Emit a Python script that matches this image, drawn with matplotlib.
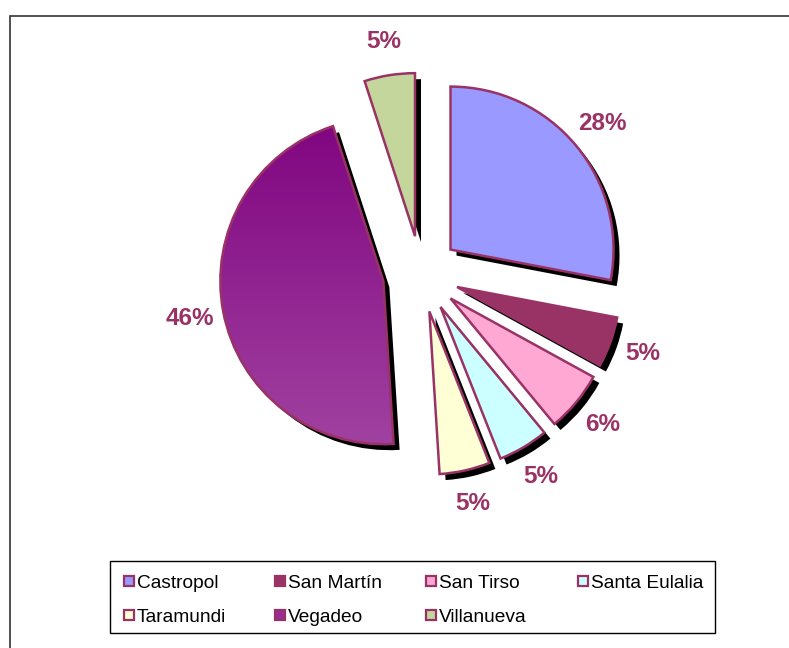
import matplotlib
matplotlib.use("Agg")
import matplotlib.pyplot as plt
import matplotlib.transforms as mtransforms
from matplotlib.patches import Rectangle
from matplotlib.colors import LinearSegmentedColormap
import numpy as np

plt.rcParams['font.family'] = ['Liberation Sans', 'DejaVu Sans']

categories = ["Castropol", "San Martín", "San Tirso", "Santa Eulalia",
              "Taramundi", "Vegadeo", "Villanueva"]
values = [28, 5, 6, 5, 5, 46, 5]
colors = ["#9999FF", "#993366", "#FFA8D4", "#CCFFFF", "#FFFFD6", "#8C2A8C", "#C4D69C"]
legend_colors = ["#9999FF", "#993366", "#FFA8D4", "#CCFFFF", "#FFFFD6", "#962E96", "#C4D69C"]
edge = "#993366"
label_color = "#993366"

W, H = 789, 648
fig = plt.figure(figsize=(W / 100, H / 100), dpi=100)
ax = fig.add_axes([0, 0, 1, 1])

R = 163.0
cx, cy = 421.0, 274.0
explode = [0.235] * len(values)

# shadows
sh, _ = ax.pie(values, explode=explode, startangle=90, counterclock=False,
               colors=["black"] * len(values), radius=1.0,
               wedgeprops=dict(linewidth=0))
off = mtransforms.ScaledTranslation(6 / 100, -6 / 100, fig.dpi_scale_trans)
for w in sh:
    w.set_transform(ax.transData + off)
    w.set_zorder(1)

wedges, texts, autotexts = ax.pie(
    values, explode=explode, startangle=90, counterclock=False,
    colors=colors, radius=1.0, autopct="%1.0f%%", pctdistance=1.21,
    wedgeprops=dict(linewidth=1.8, edgecolor=edge),
    textprops=dict(fontsize=17.5, fontweight="bold", color=label_color))
for w in wedges:
    w.set_zorder(3)

# gradient fill for Vegadeo
vw = wedges[5]
cmap = LinearSegmentedColormap.from_list("veg", ["#7E007E", "#A346A3"])
grad = np.linspace(0, 1, 256).reshape(-1, 1)
im = ax.imshow(grad, cmap=cmap, aspect="auto", extent=[-1.5, 0.2, -1.2, 1.1],
               origin="upper", zorder=2.5)
im.set_clip_path(vw)
vw.set_facecolor("none")

ax.set_xlim(-cx / R, (W - cx) / R)
ax.set_ylim(-(H - cy) / R, cy / R)
ax.set_aspect("auto")
ax.axis("off")

# outer frame
fig.patches.append(Rectangle((10 / W, -0.1), 1.2, 1 - 16 / H + 0.1,
                             transform=fig.transFigure, fill=False,
                             edgecolor="#333333", linewidth=1.2, zorder=0))

# legend box drawn in pixel coordinates (uniform columns, rows read left->right)
def px(x, y):
    return x / W, 1 - y / H

x0, y0, x1, y1 = 110, 561, 715, 633
fig.patches.append(Rectangle(px(x0, y1), (x1 - x0) / W, (y1 - y0) / H,
                             transform=fig.transFigure, facecolor="white",
                             edgecolor="black", linewidth=1.0, zorder=5))
col_x = [124, 275, 426, 578]
row_y = [581, 615]
sq = 10
for i, (name, c) in enumerate(zip(categories, legend_colors)):
    r, k = divmod(i, 4)
    mx, my = col_x[k], row_y[r]
    fig.patches.append(Rectangle(px(mx, my + sq / 2), sq / W, sq / H,
                                 transform=fig.transFigure, facecolor=c,
                                 edgecolor=edge, linewidth=1.6, zorder=6))
    fig.text(*px(mx + sq + 3, my), name, fontsize=13.8, va="center_baseline",
             ha="left", color="black", zorder=7)

fig.savefig("out.png", dpi=100)
